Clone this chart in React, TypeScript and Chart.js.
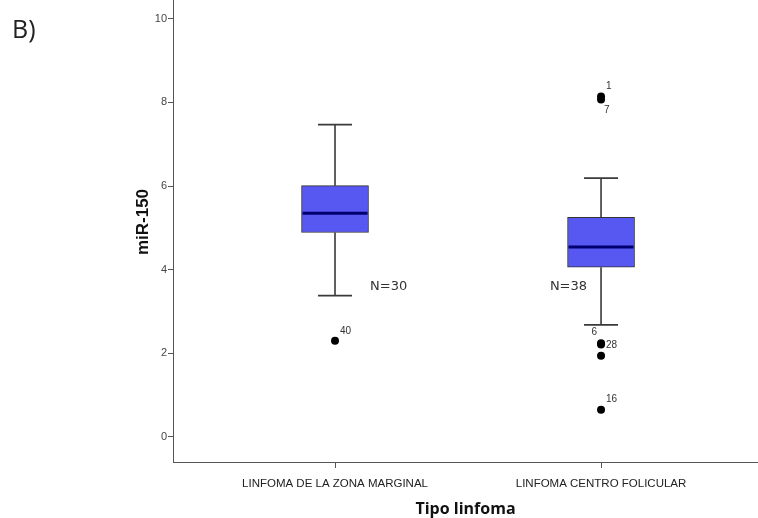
import React, { useEffect, useRef } from "react";
import { Chart, registerables } from "chart.js";

Chart.register(...registerables);

// ---------- data ----------
const categories = ["LINFOMA DE LA ZONA MARGINAL", "LINFOMA CENTRO FOLICULAR"];
const whiskerLow = [3.38, 2.68];
const q1 = [4.89, 4.06];
const median = [5.35, 4.54];
const q3 = [6.01, 5.25];
const whiskerHigh = [7.47, 6.19];
const sampleSizes = [30, 38];
const outlierGroup = [0, 1, 1, 1, 1, 1, 1];
const outlierValue = [2.3, 8.14, 8.07, 2.24, 2.21, 1.94, 0.65];
const outlierCase = ["40", "1", "7", "6", "28", "", "16"];
const yTicks = [0, 2, 4, 6, 8, 10];

// ---------- style ----------
const outlierLabelAnchor = ["ur", "ur", "dr", "ul", "r", "r", "ur"];
const anchors: Record<string, { dx: number; dy: number; align: CanvasTextAlign }> = {
  ur: { dx: 5, dy: -10, align: "left" },
  dr: { dx: 3, dy: 11, align: "left" },
  ul: { dx: -4, dy: -11, align: "right" },
  r: { dx: 5, dy: 1, align: "left" },
};
const nLabelValue = 3.6;
const nLabelAnchor = [
  { dx: 35, align: "left" as CanvasTextAlign },
  { dx: -14, align: "right" as CanvasTextAlign },
];
const BOX_FILL = "#5757F2";
const BOX_EDGE = "#333333";
const MEDIAN_COLOR = "#00006E";
const WHISKER_COLOR = "#3A3A3A";
const BOX_WIDTH = 67;
const CAP_WIDTH = 34;

const boxPlugin = {
  id: "boxParts",
  beforeDatasetsDraw(chart: any) {
    const { ctx, scales } = chart;
    const xs = scales.x;
    const ys = scales.y;
    ctx.save();
    ctx.strokeStyle = WHISKER_COLOR;
    ctx.lineWidth = 1.6;
    categories.forEach((_, i) => {
      const cx = xs.getPixelForValue(i);
      const yLo = ys.getPixelForValue(whiskerLow[i]);
      const yHi = ys.getPixelForValue(whiskerHigh[i]);
      const yQ1 = ys.getPixelForValue(q1[i]);
      const yQ3 = ys.getPixelForValue(q3[i]);
      ctx.beginPath();
      ctx.moveTo(cx, yQ3);
      ctx.lineTo(cx, yHi);
      ctx.moveTo(cx, yQ1);
      ctx.lineTo(cx, yLo);
      ctx.moveTo(cx - CAP_WIDTH / 2, yHi);
      ctx.lineTo(cx + CAP_WIDTH / 2, yHi);
      ctx.moveTo(cx - CAP_WIDTH / 2, yLo);
      ctx.lineTo(cx + CAP_WIDTH / 2, yLo);
      ctx.stroke();
    });
    ctx.restore();
  },
  afterDatasetsDraw(chart: any) {
    const { ctx, scales } = chart;
    const xs = scales.x;
    const ys = scales.y;
    ctx.save();
    ctx.strokeStyle = MEDIAN_COLOR;
    ctx.lineWidth = 3;
    categories.forEach((_, i) => {
      const cx = xs.getPixelForValue(i);
      const ym = ys.getPixelForValue(median[i]);
      ctx.beginPath();
      ctx.moveTo(cx - BOX_WIDTH / 2 + 1, ym);
      ctx.lineTo(cx + BOX_WIDTH / 2 - 1, ym);
      ctx.stroke();
    });
    ctx.restore();
  },
  afterDraw(chart: any) {
    const { ctx, scales } = chart;
    const xs = scales.x;
    const ys = scales.y;
    ctx.save();
    // panel letter
    ctx.fillStyle = "#222";
    ctx.font = "25px 'Open Sans'";
    ctx.textAlign = "left";
    ctx.textBaseline = "alphabetic";
    ctx.fillText("B)", 12, 38);
    // y title
    ctx.save();
    ctx.translate(143, 222);
    ctx.rotate(-Math.PI / 2);
    ctx.font = "bold 17px 'Liberation Sans'";
    ctx.fillStyle = "#111";
    ctx.textAlign = "center";
    ctx.textBaseline = "middle";
    ctx.fillText("miR-150", 0, 0);
    ctx.restore();
    // N labels
    ctx.font = "13px 'DejaVu Sans'";
    ctx.fillStyle = "#333";
    ctx.textBaseline = "middle";
    sampleSizes.forEach((n, i) => {
      const cx = xs.getPixelForValue(i);
      const y = ys.getPixelForValue(nLabelValue);
      ctx.textAlign = nLabelAnchor[i].align;
      ctx.fillText("N=" + n, cx + nLabelAnchor[i].dx, y);
    });
    // outlier case labels
    ctx.font = "10px 'Liberation Sans'";
    ctx.fillStyle = "#333";
    outlierCase.forEach((lab, i) => {
      if (!lab) return;
      const a = anchors[outlierLabelAnchor[i]];
      const px = xs.getPixelForValue(outlierGroup[i]);
      const py = ys.getPixelForValue(outlierValue[i]);
      ctx.textAlign = a.align;
      ctx.fillText(lab, px + a.dx, py + a.dy);
    });
    ctx.restore();
  },
};

export default function App() {
  const ref = useRef<HTMLCanvasElement>(null);
  useEffect(() => {
    document.body.style.margin = "0";
    const chart = new Chart(ref.current as HTMLCanvasElement, {
      type: "bar",
      data: {
        datasets: [
          {
            type: "bar",
            data: categories.map((_, i) => ({ x: i, y: [q1[i], q3[i]] })) as any,
            backgroundColor: BOX_FILL,
            borderColor: BOX_EDGE,
            borderWidth: 1,
            borderSkipped: false,
            barThickness: BOX_WIDTH,
          } as any,
          {
            type: "scatter",
            data: outlierGroup.map((g, i) => ({ x: g, y: outlierValue[i] })),
            backgroundColor: "#000",
            borderColor: "#000",
            borderWidth: 0,
            pointRadius: 4,
          } as any,
        ],
      },
      options: {
        animation: false,
        responsive: false,
        layout: { padding: 0, autoPadding: false },
        plugins: { legend: { display: false }, tooltip: { enabled: false } },
        scales: {
          x: {
            type: "linear",
            offset: false,
            min: -0.609,
            max: 1.59,
            afterBuildTicks: (s: any) => {
              s.ticks = categories.map((_, i) => ({ value: i }));
            },
            afterFit: (s: any) => {
              s.height = 56;
              s.paddingLeft = 0;
              s.paddingRight = 0;
            },
            grid: { drawOnChartArea: false, offset: false, tickLength: 6, color: "#555" },
            border: { color: "#555", width: 1 },
            ticks: {
              callback: (v: any) => categories[v as number],
              font: { family: "'Liberation Sans'", size: 11.5 },
              color: "#222",
              padding: 9,
              maxRotation: 0,
              autoSkip: false,
            },
            title: {
              display: true,
              text: "Tipo linfoma",
              font: { family: "'Open Sans'", size: 16, weight: "bold" },
              color: "#111",
              padding: { top: 0, bottom: -1 },
            },
          } as any,
          y: {
            min: -0.6,
            max: 10.45,
            afterBuildTicks: (s: any) => {
              s.ticks = yTicks.map((v) => ({ value: v }));
            },
            afterFit: (s: any) => {
              s.width = 173;
              s.paddingTop = 0;
              s.paddingBottom = 0;
            },
            grid: { drawOnChartArea: false, tickLength: 5, color: "#555" },
            border: { color: "#555", width: 1 },
            ticks: {
              font: { family: "'Liberation Sans'", size: 11 },
              color: "#444",
              padding: 1,
            },
          } as any,
        },
      },
      plugins: [boxPlugin],
    });
    return () => chart.destroy();
  }, []);
  return (
    <div style={{ position: "fixed", left: 0, top: 0, width: 758, height: 518, background: "#fff" }}>
      <canvas ref={ref} width={758} height={518} style={{ width: 758, height: 518, display: "block" }} />
    </div>
  );
}
